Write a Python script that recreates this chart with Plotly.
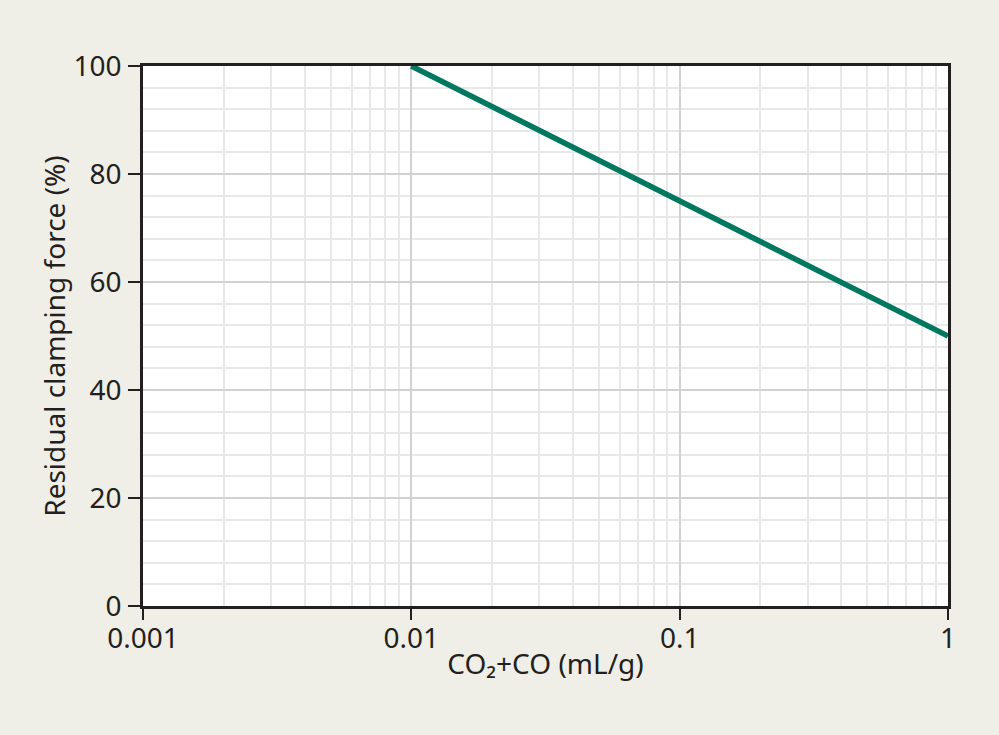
import plotly.graph_objects as go

x_vals = [0.01, 1.0]
y_vals = [100, 50]
x_tickvals = [0.001, 0.01, 0.1, 1]
x_ticktext = ["0.001", "0.01", "0.1", "1"]
y_tickvals = [0, 20, 40, 60, 80, 100]

FONT = "Noto Sans, sans-serif"
AX = "#231f20"
FS = 28

fig = go.Figure()
fig.add_trace(go.Scatter(x=x_vals, y=y_vals, mode="lines",
                         line=dict(color="#00775f", width=5.5), showlegend=False))

fig.update_layout(
    width=999, height=735,
    paper_bgcolor="#efeee7", plot_bgcolor="#ffffff",
    margin=dict(l=143, r=51, t=66, b=129),
    font=dict(family=FONT, size=FS, color="#231f20"),
)
fig.update_xaxes(
    type="log", range=[-3, 0],
    tickvals=x_tickvals, ticktext=x_ticktext,
    ticks="outside", ticklen=11, tickwidth=2, tickcolor=AX,
    ticklabelstandoff=-5,
    showline=True, linecolor=AX, linewidth=2.5, mirror=True,
    showgrid=True, gridcolor="#d2d2d2", gridwidth=2,
    minor=dict(dtick="D1", showgrid=True, gridcolor="#e8e8e8", gridwidth=2, ticks=""),
    zeroline=False,
    title=dict(text="CO₂+CO (mL/g)", standoff=0, font=dict(size=FS)),
    tickfont=dict(size=FS),
)
fig.update_yaxes(
    range=[0, 100], tickvals=y_tickvals,
    ticks="outside", ticklen=12, tickwidth=2, tickcolor=AX,
    ticklabelstandoff=1,
    showline=True, linecolor=AX, linewidth=2.5, mirror=True,
    showgrid=True, gridcolor="#d2d2d2", gridwidth=2,
    minor=dict(dtick=4, showgrid=True, gridcolor="#e8e8e8", gridwidth=2, ticks=""),
    zeroline=False,
    title=dict(text="Residual clamping force (%)", standoff=0, font=dict(size=FS)),
    tickfont=dict(size=FS),
)
fig.write_html("out.html", config={"displayModeBar": False},
               post_script="document.body.style.margin='0';")
